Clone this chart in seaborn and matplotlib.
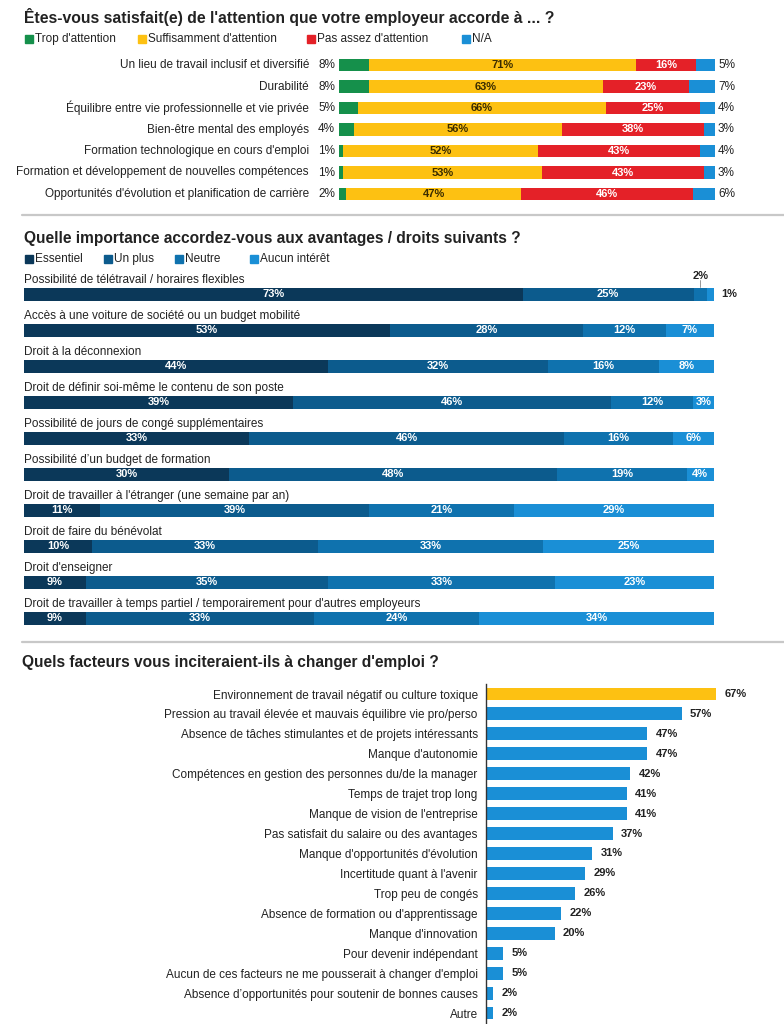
import numpy as np
import pandas as pd
import matplotlib
matplotlib.use("Agg")
import matplotlib.pyplot as plt
import matplotlib.transforms as mtransforms
from matplotlib.patches import Rectangle
from matplotlib.lines import Line2D
import seaborn as sns

sns.set_theme(style="white")
plt.rcParams['font.family'] = ['Liberation Sans', 'DejaVu Sans']
NARROW = ['Liberation Sans Narrow', 'Liberation Sans', 'DejaVu Sans']

# ---------------- DATA ----------------
title1 = "Êtes-vous satisfait(e) de l'attention que votre employeur accorde à ... ?"
legend1 = ["Trop d'attention", "Suffisamment d'attention", "Pas assez d'attention", "N/A"]
labels1 = ["Un lieu de travail inclusif et diversifié",
           "Durabilité",
           "Équilibre entre vie professionnelle et vie privée",
           "Bien-être mental des employés",
           "Formation technologique en cours d'emploi",
           "Formation et développement de nouvelles compétences",
           "Opportunités d'évolution et planification de carrière"]
trop = [8, 8, 5, 4, 1, 1, 2]
suff = [71, 63, 66, 56, 52, 53, 47]
pas_assez = [16, 23, 25, 38, 43, 43, 46]
na = [5, 7, 4, 3, 4, 3, 6]

title2 = "Quelle importance accordez-vous aux avantages / droits suivants ?"
legend2 = ["Essentiel", "Un plus", "Neutre", "Aucun intérêt"]
labels2 = ["Possibilité de télétravail / horaires flexibles",
           "Accès à une voiture de société ou un budget mobilité",
           "Droit à la déconnexion",
           "Droit de définir soi-même le contenu de son poste",
           "Possibilité de jours de congé supplémentaires",
           "Possibilité d’un budget de formation",
           "Droit de travailler à l'étranger (une semaine par an)",
           "Droit de faire du bénévolat",
           "Droit d'enseigner",
           "Droit de travailler à temps partiel / temporairement pour d'autres employeurs"]
essentiel = [73, 53, 44, 39, 33, 30, 11, 10, 9, 9]
un_plus = [25, 28, 32, 46, 46, 48, 39, 33, 35, 33]
neutre = [2, 12, 16, 12, 16, 19, 21, 33, 33, 24]
aucun = [1, 7, 8, 3, 6, 4, 29, 25, 23, 34]

title3 = "Quels facteurs vous inciteraient-ils à changer d'emploi ?"
labels3 = ["Environnement de travail négatif ou culture toxique",
           "Pression au travail élevée et mauvais équilibre vie pro/perso",
           "Absence de tâches stimulantes et de projets intéressants",
           "Manque d'autonomie",
           "Compétences en gestion des personnes du/de la manager",
           "Temps de trajet trop long",
           "Manque de vision de l'entreprise",
           "Pas satisfait du salaire ou des avantages",
           "Manque d'opportunités d'évolution",
           "Incertitude quant à l'avenir",
           "Trop peu de congés",
           "Absence de formation ou d'apprentissage",
           "Manque d'innovation",
           "Pour devenir indépendant",
           "Aucun de ces facteurs ne me pousserait à changer d'emploi",
           "Absence d’opportunités pour soutenir de bonnes causes",
           "Autre"]
values3 = [67, 57, 47, 47, 42, 41, 41, 37, 31, 29, 26, 22, 20, 5, 5, 2, 2]

# ---------------- STYLE ----------------
colors1 = ['#15904b', '#fdc112', '#e42128', '#1a8fd6']
colors2 = ['#0b3859', '#0c5b8d', '#0f72ae', '#1a8fd6']
col3_top = '#fdc112'
col3 = '#1a8fd6'
TXT = '#222222'
FS_LAB = 8.5
FS_VAL = 8

W, H = 784, 1024
fig = plt.figure(figsize=(W / 100, H / 100), dpi=100)
fig.patch.set_facecolor('white')


def px_axes(x0, y0, x1, y1):
    return fig.add_axes([x0 / W, 1 - y1 / H, (x1 - x0) / W, (y1 - y0) / H])


def fx(px):
    return px / W


def fy(py):
    return 1 - py / H


def stacked(ax, labels, series, colors, height):
    arr = np.array(series, dtype=float).T
    arr = arr / arr.sum(axis=1, keepdims=True) * 100
    cum = np.cumsum(arr, axis=1)
    for k in range(arr.shape[1] - 1, -1, -1):
        df = pd.DataFrame({'lab': labels, 'v': cum[:, k]})
        sns.barplot(data=df, x='v', y='lab', order=labels, color=colors[k],
                    orient='h', errorbar=None, width=height, ax=ax,
                    saturation=1, linewidth=0)
    ax.set_xlim(0, 100)
    ax.set_ylim(len(labels) - 0.5, -0.5)
    ax.set_xlabel('')
    ax.set_ylabel('')
    ax.set_xticks([])
    for s in ax.spines.values():
        s.set_visible(False)
    return arr, cum


def legend_row(xs, labels, colors, yc):
    for x, lab, c in zip(xs, labels, colors):
        fig.patches.append(Rectangle((fx(x), fy(yc + 4)), 8 / W, 8 / H, color=c,
                                     transform=fig.transFigure))
        fig.text(fx(x + 10), fy(yc), lab, fontsize=8.5, color=TXT,
                 ha='left', va='center')


# ---------------- SECTION 1 ----------------
fig.text(fx(24), fy(17), title1, fontsize=11.3, fontweight='bold', color=TXT,
         ha='left', va='center')
legend_row([25, 138, 307, 462], legend1, colors1, 39)

n1 = len(labels1)
sp1 = (194 - 65) / (n1 - 1)
ax1 = px_axes(339, 65 - sp1 / 2, 715, 194 + sp1 / 2)
arr1, cum1 = stacked(ax1, labels1, [trop, suff, pas_assez, na], colors1, 0.6)
ax1.set_yticks([])
tr1 = mtransforms.blended_transform_factory(fig.transFigure, ax1.transData)
for i in range(n1):
    ax1.text(fx(309), i, labels1[i], transform=tr1, ha='right', va='center',
             fontsize=FS_LAB, color=TXT)
    ax1.text(fx(335), i, f"{trop[i]}%", transform=tr1, ha='right', va='center',
             fontsize=FS_LAB, color=TXT)
    ax1.text(fx(718), i, f"{na[i]}%", transform=tr1, ha='left', va='center',
             fontsize=FS_LAB, color=TXT)
    c_s = cum1[i, 0] + arr1[i, 1] / 2
    ax1.text(c_s, i, f"{suff[i]}%", ha='center', va='center', fontsize=FS_VAL,
             color='#3a2c00', fontweight='bold', family=NARROW)
    c_p = cum1[i, 1] + arr1[i, 2] / 2
    ax1.text(c_p, i, f"{pas_assez[i]}%", ha='center', va='center', fontsize=FS_VAL,
             color='white', fontweight='bold', family=NARROW)

fig.add_artist(Line2D([fx(22), fx(784)], [fy(215), fy(215)], color='#c8c8c8',
                      lw=1.6, transform=fig.transFigure))

# ---------------- SECTION 2 ----------------
fig.text(fx(24), fy(238), title2, fontsize=11.2, fontweight='bold', color=TXT,
         ha='left', va='center')
legend_row([25, 104, 175, 250], legend2, colors2, 259)

n2 = len(labels2)
sp2 = 36.0
ax2 = px_axes(24, 294 - sp2 / 2, 714, 618 + sp2 / 2)
series2 = [essentiel, un_plus, neutre, aucun]
arr2, cum2 = stacked(ax2, labels2, series2, colors2, 13 / 36)
ax2.set_yticks([])
for i in range(n2):
    ax2.text(0, i - 0.40, labels2[i], ha='left', va='center', fontsize=FS_LAB, color=TXT)
    for k in range(4):
        v = series2[k][i]
        start = cum2[i, k] - arr2[i, k]
        if i == 0 and k >= 2:
            continue
        ax2.text(start + arr2[i, k] / 2, i, f"{v}%", ha='center', va='center',
                 fontsize=FS_VAL, color='white', fontweight='bold', family=NARROW)
# small segments of first row labelled outside
x_n = cum2[0, 2] - arr2[0, 2] / 2
ax2.text(x_n, -0.5, f"{neutre[0]}%", ha='center', va='center', fontsize=FS_VAL,
         color=TXT, fontweight='bold', family=NARROW)
ax2.plot([x_n, x_n], [-0.4, -0.2], color='#888888', lw=0.6)
ax2.text(101, 0, f"{aucun[0]}%", ha='left', va='center', fontsize=FS_VAL,
         color=TXT, fontweight='bold', clip_on=False)

fig.add_artist(Line2D([fx(22), fx(784)], [fy(642), fy(642)], color='#c8c8c8',
                      lw=1.6, transform=fig.transFigure))

# ---------------- SECTION 3 ----------------
fig.text(fx(22), fy(662), title3, fontsize=11.2, fontweight='bold', color=TXT,
         ha='left', va='center', family=NARROW)
n3 = len(labels3)
sp3 = (1013 - 694) / (n3 - 1)
ax3 = px_axes(486, 694 - sp3 / 2, 784, 1013 + sp3 / 2)
df3 = pd.DataFrame({'lab': labels3, 'v': values3})
pal3 = [col3_top] + [col3] * (n3 - 1)
sns.barplot(data=df3, x='v', y='lab', order=labels3, hue='lab', hue_order=labels3,
            palette=pal3, legend=False, orient='h', errorbar=None,
            width=0.65, saturation=1, linewidth=0, ax=ax3)
ax3.set_xlim(0, (784 - 486) / 3.43)
ax3.set_ylim(n3 - 0.5, -0.5)
ax3.set_xlabel('')
ax3.set_ylabel('')
ax3.set_xticks([])
for s in ['top', 'right', 'bottom']:
    ax3.spines[s].set_visible(False)
ax3.spines['left'].set_color('#333333')
ax3.spines['left'].set_linewidth(1.0)
ax3.tick_params(axis='y', length=0, pad=6, labelsize=FS_LAB, labelcolor=TXT)
for i, v in enumerate(values3):
    ax3.annotate(f"{v}%", (v, i), xytext=(6, 0), textcoords='offset points',
                 ha='left', va='center', fontsize=FS_VAL, fontweight='bold', color=TXT)

fig.savefig('out.png', dpi=100, facecolor='white')
